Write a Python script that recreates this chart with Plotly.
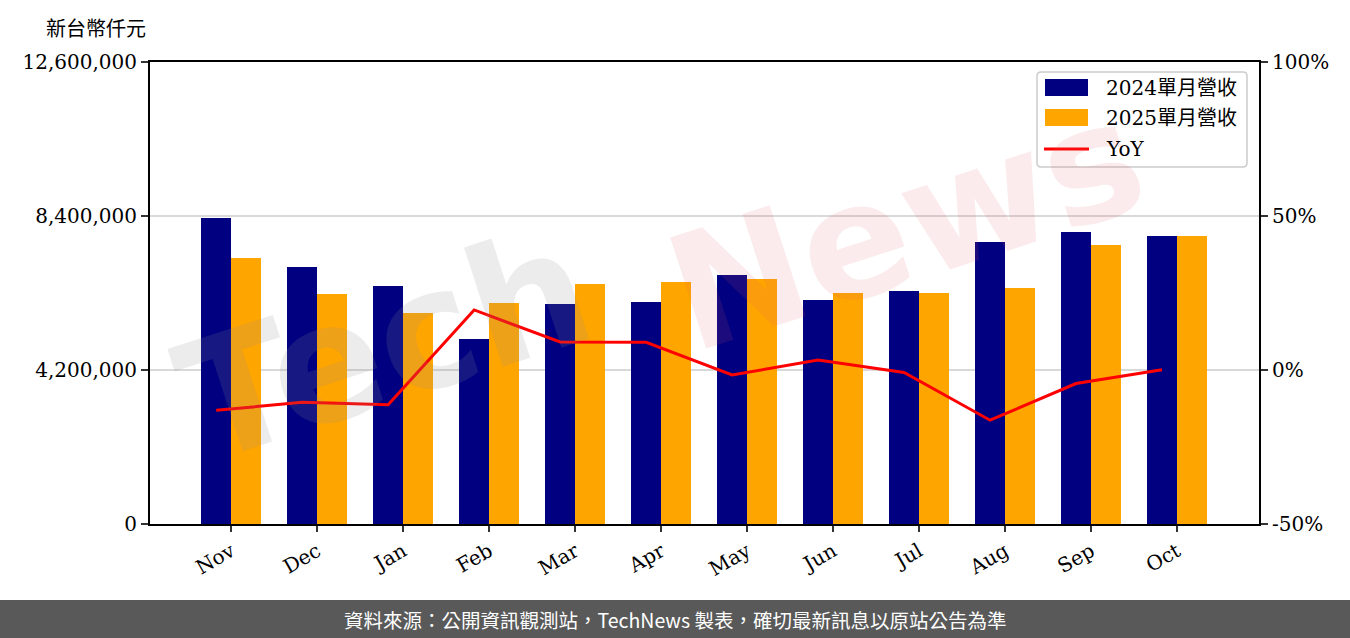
import plotly.graph_objects as go

months = ["Nov", "Dec", "Jan", "Feb", "Mar", "Apr", "May", "Jun", "Jul", "Aug", "Sep", "Oct"]
rev_2024 = [8345000, 7009000, 6491000, 5045000, 6000000, 6055000, 6791000, 6109000, 6355000, 7691000, 7964000, 7855000]
rev_2025 = [7255000, 6273000, 5755000, 6027000, 6545000, 6600000, 6682000, 6300000, 6300000, 6436000, 7609000, 7855000]
yoy = [-13.1, -10.5, -11.3, 19.5, 9.1, 9.0, -1.6, 3.2, -0.8, -16.3, -4.4, 0.1]
y_ticks = [0, 4200000, 8400000, 12600000]
y2_ticks = [-50, 0, 50, 100]
series_names = ["2024單月營收", "2025單月營收", "YoY"]
colors = ["#000080", "#FFA500", "#FF0000"]

BW = 0.35
idx = list(range(len(months)))
serif = "DejaVu Serif, Noto Sans CJK TC, serif"

fig = go.Figure()
fig.add_trace(go.Bar(x=idx, y=rev_2024, width=BW, offset=-BW, name=series_names[0],
                     marker=dict(color=colors[0], line=dict(width=0))))
fig.add_trace(go.Bar(x=idx, y=rev_2025, width=BW, offset=0, name=series_names[1],
                     marker=dict(color=colors[1], line=dict(width=0))))
fig.add_trace(go.Scatter(x=[i - BW / 2 for i in idx], y=yoy, name=series_names[2], mode="lines",
                         line=dict(color=colors[2], width=3), yaxis="y2"))

W, H = 1350, 638
L, R, T, B = 150, 91, 62, 114
pw, ph = W - L - R, H - T - B


def px_x(px):
    return (px - L) / pw


def px_y(py):
    return (H - B - py) / ph


fig.update_layout(
    width=W, height=H,
    margin=dict(l=L, r=R, t=T, b=B),
    plot_bgcolor="white", paper_bgcolor="white",
    barmode="overlay", bargap=0,
    font=dict(family=serif, size=20, color="black"),
    showlegend=False,
    xaxis=dict(range=[-0.945, 11.953], tickmode="array", tickvals=idx, ticktext=months,
               tickangle=-30, ticks="outside", ticklen=6, tickwidth=2, tickcolor="#333",
               showline=True, linecolor="black", linewidth=2, mirror=True,
               showgrid=False, zeroline=False, tickfont=dict(family=serif, size=20)),
    yaxis=dict(range=[0, 12600000], tickmode="array", tickvals=y_ticks,
               ticktext=[f"{v:,}" for v in y_ticks],
               ticks="outside", ticklen=7, tickwidth=2, tickcolor="#333",
               showline=True, linecolor="black", linewidth=2,
               showgrid=True, gridcolor="#d9d9d9", gridwidth=1.5, zeroline=False,
               tickfont=dict(family=serif, size=20)),
    yaxis2=dict(range=[-50, 100], tickmode="array", tickvals=y2_ticks,
                ticktext=[f"{v}%" for v in y2_ticks], overlaying="y", side="right",
                ticks="outside", ticklen=7, tickwidth=2, tickcolor="#333",
                showline=True, linecolor="black", linewidth=2,
                showgrid=False, zeroline=False, tickfont=dict(family=serif, size=20)),
)

# watermark
fig.add_annotation(xref="paper", yref="paper", x=px_x(385), y=px_y(345),
                   text="<b>Tech</b>", showarrow=False, textangle=-18,
                   font=dict(family="DejaVu Sans", size=165, color="rgba(140,140,140,0.17)"),
                   xanchor="center", yanchor="middle")
fig.add_annotation(xref="paper", yref="paper", x=px_x(905), y=px_y(225),
                   text="<b>News</b>", showarrow=False, textangle=-18,
                   font=dict(family="DejaVu Sans", size=160, color="rgba(220,90,100,0.12)"),
                   xanchor="center", yanchor="middle")

# custom legend (box, swatches, labels)
bx0, bx1, by0, by1, rr = 1037, 1247, 72, 167, 4
path = (f"M {px_x(bx0 + rr)} {px_y(by0)} L {px_x(bx1 - rr)} {px_y(by0)} "
        f"Q {px_x(bx1)} {px_y(by0)} {px_x(bx1)} {px_y(by0 + rr)} "
        f"L {px_x(bx1)} {px_y(by1 - rr)} Q {px_x(bx1)} {px_y(by1)} {px_x(bx1 - rr)} {px_y(by1)} "
        f"L {px_x(bx0 + rr)} {px_y(by1)} Q {px_x(bx0)} {px_y(by1)} {px_x(bx0)} {px_y(by1 - rr)} "
        f"L {px_x(bx0)} {px_y(by0 + rr)} Q {px_x(bx0)} {px_y(by0)} {px_x(bx0 + rr)} {px_y(by0)} Z")
fig.add_shape(type="path", xref="paper", yref="paper", path=path,
              fillcolor="rgba(255,255,255,0.8)", line=dict(color="#cccccc", width=1.5), layer="above")
row_y = [88, 118, 149]
for k in range(2):
    fig.add_shape(type="rect", xref="paper", yref="paper",
                  x0=px_x(1045), x1=px_x(1088), y0=px_y(row_y[k] - 9), y1=px_y(row_y[k] + 8),
                  fillcolor=colors[k], line=dict(width=0), layer="above")
fig.add_shape(type="line", xref="paper", yref="paper",
              x0=px_x(1044), x1=px_x(1089), y0=px_y(row_y[2]), y1=px_y(row_y[2]),
              line=dict(color=colors[2], width=3), layer="above")
for k in range(3):
    fig.add_annotation(xref="paper", yref="paper", x=px_x(1104), y=px_y(row_y[k]),
                       text=series_names[k], showarrow=False,
                       font=dict(family=serif, size=20, color="black"),
                       xanchor="left", yanchor="middle")

# footer bar
fig.add_shape(type="rect", xref="paper", yref="paper",
              x0=px_x(0), x1=px_x(W), y0=px_y(600), y1=px_y(H),
              fillcolor="#595959", line=dict(width=0), layer="above")
fig.add_annotation(xref="paper", yref="paper", x=px_x(675), y=px_y(619),
                   text="資料來源：公開資訊觀測站，TechNews 製表，確切最新訊息以原站公告為準",
                   showarrow=False, font=dict(family="Noto Sans CJK TC", size=19.5, color="white"),
                   xanchor="center", yanchor="middle")

# axis unit title
fig.add_annotation(xref="paper", yref="paper", x=px_x(96), y=px_y(27),
                   text="新台幣仟元", showarrow=False,
                   font=dict(family="Noto Sans CJK TC", size=20, color="black"),
                   xanchor="center", yanchor="middle")

fig.write_html("out.html", config={"displayModeBar": False},
               post_script="document.body.style.margin='0';document.body.style.overflow='hidden';")
